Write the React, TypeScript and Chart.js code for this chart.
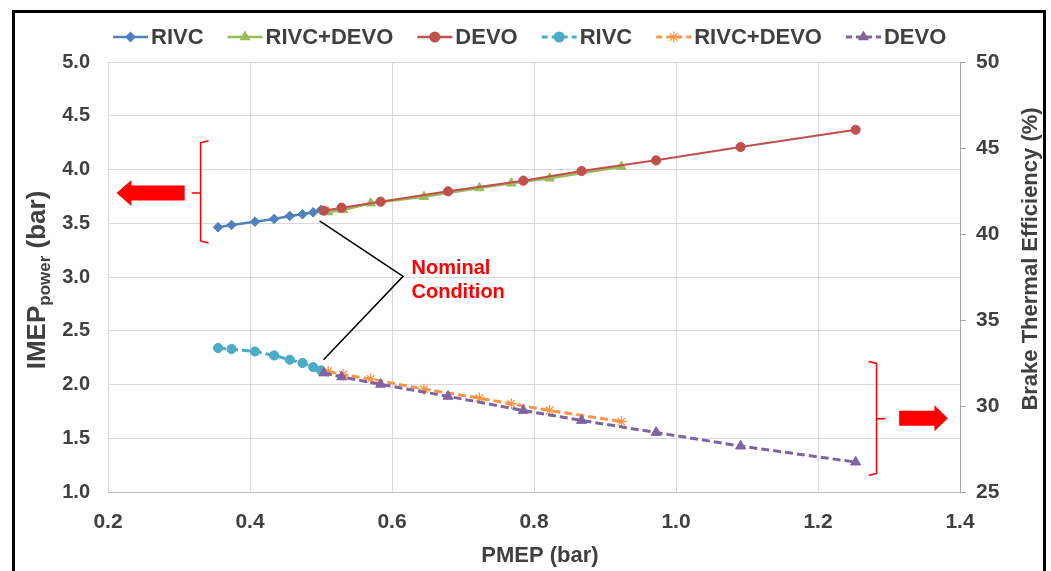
import React, { useEffect, useRef } from "react";
import { Chart, registerables } from "chart.js";

Chart.register(...registerables);

const FONT = '"Liberation Sans", Arial, Helvetica, sans-serif';
const TEXT = "#404040";
const GRID = "#D9D9D9";

// PMEP (bar) – x values
const rivcPmep = [0.355, 0.374, 0.407, 0.434, 0.456, 0.474, 0.489, 0.5];
const comboPmep = [0.51, 0.531, 0.57, 0.645, 0.723, 0.768, 0.822, 0.923];
const devoPmep = [0.504, 0.529, 0.584, 0.679, 0.785, 0.867, 0.972, 1.091, 1.253];

// IMEP_power (bar) – left axis
const rivcImep = [3.463, 3.484, 3.515, 3.54, 3.568, 3.584, 3.602, 3.624];
const comboImep = [3.605, 3.624, 3.686, 3.747, 3.828, 3.872, 3.918, 4.026];
const devoImep = [3.617, 3.645, 3.701, 3.797, 3.896, 3.986, 4.085, 4.209, 4.37];

// Brake thermal efficiency (%) – right axis
const rivcBte = [33.37, 33.31, 33.17, 32.94, 32.69, 32.5, 32.26, 32.07];
const comboBte = [32.01, 31.82, 31.57, 30.98, 30.46, 30.13, 29.74, 29.1];
const devoBte = [31.92, 31.69, 31.26, 30.56, 29.74, 29.16, 28.46, 27.67, 26.74];

const seriesNames = ["RIVC", "RIVC+DEVO", "DEVO", "RIVC", "RIVC+DEVO", "DEVO"];
const seriesColors = ["#4F81BD", "#9BBB59", "#C0504D", "#4BACC6", "#F79646", "#8064A2"];
const seriesMarkers = ["rectRot", "triangle", "circle", "circle", "star", "triangle"];
const seriesDashed = [false, false, false, true, true, true];

const leftTitleParts = ["IMEP", "power", " (bar)"];
const rightTitle = "Brake Thermal Efficiency (%)";
const xTitle = "PMEP (bar)";
const noteLines = ["Nominal", "Condition"];

// annotation anchors in data coordinates
const noteX = 0.6275;
const noteBaselines = [3.029, 2.801];
const leaderVertex = { x: 0.6156, y: 3.006 };
const leaderTopEnd = { x: 0.498, y: 3.522 };
const leaderBottomEndBte = { x: 0.5036, y: 32.69 };
const leftArrow = { tip: 0.212, neck: 0.233, tail: 0.308, y: 3.782 };
const leftBrace = { x: 0.3304, top: 4.267, mid: 3.782, bottom: 3.317 };
const rightBrace = { x: 1.2825, top: 32.59, mid: 29.26, bottom: 25.96 };
const rightArrow = { tail: 1.3143, neck: 1.364, tip: 1.383, y: 29.29 };

function drawMarker(ctx: CanvasRenderingContext2D, style: string, x: number, y: number, r: number, color: string) {
  ctx.save();
  ctx.setLineDash([]);
  ctx.fillStyle = color;
  ctx.strokeStyle = color;
  ctx.lineWidth = 1.3;
  ctx.beginPath();
  if (style === "circle") {
    ctx.arc(x, y, r, 0, Math.PI * 2);
    ctx.fill();
  } else if (style === "rectRot") {
    ctx.moveTo(x, y - r);
    ctx.lineTo(x + r, y);
    ctx.lineTo(x, y + r);
    ctx.lineTo(x - r, y);
    ctx.closePath();
    ctx.fill();
  } else if (style === "triangle") {
    ctx.moveTo(x, y - r);
    ctx.lineTo(x + r * 0.866, y + r / 2);
    ctx.lineTo(x - r * 0.866, y + r / 2);
    ctx.closePath();
    ctx.fill();
  } else if (style === "star") {
    for (let k = 0; k < 4; k++) {
      const a = (k * Math.PI) / 4;
      ctx.moveTo(x + Math.cos(a) * r, y + Math.sin(a) * r);
      ctx.lineTo(x - Math.cos(a) * r, y - Math.sin(a) * r);
    }
    ctx.stroke();
  }
  ctx.restore();
}

const decor = {
  id: "decor",
  afterDraw(chart: any) {
    const ctx: CanvasRenderingContext2D = chart.ctx;
    const sx = chart.scales.x;
    const sl = chart.scales.y;
    const sr = chart.scales.y2;
    const area = chart.chartArea;
    ctx.save();

    // legend
    ctx.font = `bold 22px ${FONT}`;
    ctx.textBaseline = "middle";
    ctx.textAlign = "left";
    let cx = 113;
    const ly = 37;
    chart.data.datasets.forEach((ds: any, i: number) => {
      ctx.save();
      ctx.strokeStyle = seriesColors[i];
      ctx.lineWidth = seriesDashed[i] ? 3 : 2.5;
      ctx.setLineDash(seriesDashed[i] ? [6, 4] : []);
      ctx.beginPath();
      ctx.moveTo(cx, ly);
      ctx.lineTo(cx + 35, ly);
      ctx.stroke();
      ctx.restore();
      drawMarker(ctx, seriesMarkers[i], cx + 17.5, ly, seriesMarkers[i] === "triangle" ? 6.5 : 5.5, seriesColors[i]);
      ctx.fillStyle = TEXT;
      ctx.fillText(ds.label, cx + 38, ly + 1);
      cx += 38 + ctx.measureText(ds.label).width + 24;
    });

    // x title
    ctx.fillStyle = TEXT;
    ctx.font = `bold 22px ${FONT}`;
    ctx.textAlign = "center";
    ctx.textBaseline = "alphabetic";
    ctx.fillText(xTitle, (area.left + area.right) / 2 + 6, 562);

    // right title
    ctx.save();
    ctx.translate(1037, (area.top + area.bottom) / 2 - 18);
    ctx.rotate(-Math.PI / 2);
    ctx.textAlign = "center";
    ctx.fillText(rightTitle, 0, 0);
    ctx.restore();

    // left title with subscript
    ctx.save();
    ctx.translate(45, (area.top + area.bottom) / 2 + 3);
    ctx.rotate(-Math.PI / 2);
    ctx.textAlign = "left";
    const bigF = `bold 26px ${FONT}`;
    const smallF = `bold 17px ${FONT}`;
    ctx.font = bigF;
    const w1 = ctx.measureText(leftTitleParts[0]).width;
    const w3 = ctx.measureText(leftTitleParts[2]).width;
    ctx.font = smallF;
    const w2 = ctx.measureText(leftTitleParts[1]).width;
    let p = -(w1 + w2 + w3) / 2;
    ctx.font = bigF;
    ctx.fillText(leftTitleParts[0], p, 0);
    p += w1;
    ctx.font = smallF;
    ctx.fillText(leftTitleParts[1], p, 5);
    p += w2;
    ctx.font = bigF;
    ctx.fillText(leftTitleParts[2], p, 0);
    ctx.restore();

    // arrows
    ctx.fillStyle = "#FF0000";
    const arrow = (tip: number, neck: number, tail: number, y: number) => {
      ctx.beginPath();
      ctx.moveTo(tip, y);
      ctx.lineTo(neck, y - 13);
      ctx.lineTo(neck, y - 7.5);
      ctx.lineTo(tail, y - 7.5);
      ctx.lineTo(tail, y + 7.5);
      ctx.lineTo(neck, y + 7.5);
      ctx.lineTo(neck, y + 13);
      ctx.closePath();
      ctx.fill();
    };
    arrow(sx.getPixelForValue(leftArrow.tip), sx.getPixelForValue(leftArrow.neck), sx.getPixelForValue(leftArrow.tail), sl.getPixelForValue(leftArrow.y));
    arrow(sx.getPixelForValue(rightArrow.tip), sx.getPixelForValue(rightArrow.neck), sx.getPixelForValue(rightArrow.tail), sr.getPixelForValue(rightArrow.y));

    // braces
    ctx.strokeStyle = "#FF0000";
    ctx.lineWidth = 1.5;
    const brace = (x: number, top: number, mid: number, bottom: number, dir: number) => {
      ctx.beginPath();
      ctx.moveTo(x + dir * 8, top);
      ctx.lineTo(x, top + 2);
      ctx.lineTo(x, bottom - 2);
      ctx.lineTo(x + dir * 8, bottom);
      ctx.moveTo(x, mid);
      ctx.lineTo(x - dir * 9, mid);
      ctx.stroke();
    };
    brace(sx.getPixelForValue(leftBrace.x), sl.getPixelForValue(leftBrace.top), sl.getPixelForValue(leftBrace.mid), sl.getPixelForValue(leftBrace.bottom), 1);
    brace(sx.getPixelForValue(rightBrace.x), sr.getPixelForValue(rightBrace.top), sr.getPixelForValue(rightBrace.mid), sr.getPixelForValue(rightBrace.bottom), -1);

    // leader lines
    ctx.strokeStyle = "#000000";
    ctx.lineWidth = 1.5;
    const vx = sx.getPixelForValue(leaderVertex.x);
    const vy = sl.getPixelForValue(leaderVertex.y);
    ctx.beginPath();
    ctx.moveTo(sx.getPixelForValue(leaderTopEnd.x), sl.getPixelForValue(leaderTopEnd.y));
    ctx.lineTo(vx, vy);
    ctx.lineTo(sx.getPixelForValue(leaderBottomEndBte.x), sr.getPixelForValue(leaderBottomEndBte.y));
    ctx.stroke();

    // note text
    ctx.fillStyle = "#FF0000";
    ctx.font = `bold 20px ${FONT}`;
    ctx.textAlign = "left";
    ctx.textBaseline = "alphabetic";
    noteLines.forEach((t, i) => ctx.fillText(t, sx.getPixelForValue(noteX), sl.getPixelForValue(noteBaselines[i])));

    // frame
    ctx.strokeStyle = "#000000";
    ctx.lineWidth = 3;
    ctx.setLineDash([]);
    ctx.strokeRect(13.5, 11.5, 1031, 700);
    ctx.restore();
  },
};

export default function App() {
  const ref = useRef<HTMLCanvasElement>(null);
  useEffect(() => {
    const canvas = ref.current!;
    const mk = (xs: number[], ys: number[]) => xs.map((x, i) => ({ x, y: ys[i] }));
    const specs = [
      { data: mk(rivcPmep, rivcImep), axis: "y", r: 4.8, w: 2.5 },
      { data: mk(comboPmep, comboImep), axis: "y", r: 5.5, w: 2.5 },
      { data: mk(devoPmep, devoImep), axis: "y", r: 4.6, w: 2 },
      { data: mk(rivcPmep, rivcBte), axis: "y2", r: 4.6, w: 3 },
      { data: mk(comboPmep, comboBte), axis: "y2", r: 5.5, w: 3 },
      { data: mk(devoPmep, devoBte), axis: "y2", r: 5.8, w: 3 },
    ];
    const datasets = specs.map((s, i) => ({
      label: seriesNames[i],
      data: s.data,
      yAxisID: s.axis,
      showLine: true,
      borderColor: seriesColors[i],
      backgroundColor: seriesColors[i],
      borderWidth: s.w,
      borderDash: seriesDashed[i] ? [8, 4] : [],
      pointStyle: seriesMarkers[i],
      pointRadius: s.r,
      pointBackgroundColor: seriesColors[i],
      pointBorderColor: seriesColors[i],
      pointBorderWidth: seriesMarkers[i] === "star" ? 1.3 : 1,
      tension: 0,
      order: 6 - i,
    }));
    const tickFont = (size: number) => ({ family: FONT, size, weight: "bold" as const });
    const chart = new Chart(canvas, {
      type: "scatter",
      data: { datasets } as any,
      options: {
        responsive: false,
        animation: false,
        devicePixelRatio: 1,
        layout: { padding: { top: 62, left: 0, right: 0, bottom: 0 } },
        plugins: { legend: { display: false }, tooltip: { enabled: false } },
        scales: {
          x: {
            type: "linear",
            position: "bottom",
            min: 0.2,
            max: 1.4,
            ticks: {
              stepSize: 0.2,
              callback: (v: any) => Number(v).toFixed(1),
              color: TEXT,
              font: tickFont(21),
              padding: 18,
              maxRotation: 0,
              autoSkip: false,
            },
            grid: { color: GRID, drawTicks: false },
            border: { color: "#BFBFBF" },
            afterFit: (s: any) => {
              s.height = 79;
            },
          },
          y: {
            position: "left",
            min: 1,
            max: 5,
            ticks: {
              stepSize: 0.5,
              callback: (v: any) => Number(v).toFixed(1),
              color: TEXT,
              font: tickFont(20),
              padding: 18,
            },
            grid: { color: GRID, drawTicks: false },
            border: { color: GRID },
            afterFit: (s: any) => {
              s.width = 108;
            },
          },
          y2: {
            position: "right",
            min: 25,
            max: 50,
            ticks: {
              stepSize: 5,
              callback: (v: any) => String(Math.round(Number(v))),
              color: TEXT,
              font: tickFont(21),
              padding: 10,
            },
            grid: { drawOnChartArea: false, drawTicks: true, tickLength: 6, color: "#A6A6A6" },
            border: { color: "#A6A6A6" },
            afterFit: (s: any) => {
              s.width = 91;
            },
          },
        },
      } as any,
      plugins: [decor],
    });
    return () => chart.destroy();
  }, []);
  return (
    <div style={{ position: "fixed", left: 0, top: 0, width: 1051, height: 571, background: "#ffffff" }}>
      <canvas ref={ref} width={1051} height={571} style={{ display: "block" }} />
    </div>
  );
}
